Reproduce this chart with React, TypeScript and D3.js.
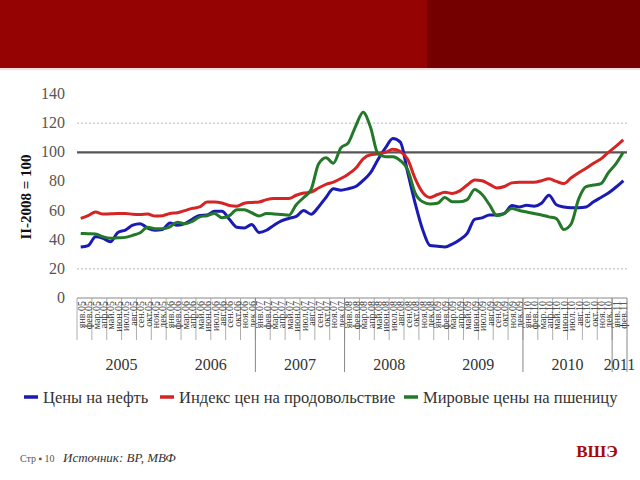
import React from "react";
import * as d3 from "d3";

const monthNames = ["янв", "фев", "мар", "апр", "май", "июн", "июл", "авг", "сен", "окт", "ноя", "дек"];
const years = [2005, 2006, 2007, 2008, 2009, 2010, 2011];
const separatorYears = [2007, 2008, 2010, 2011];
const yTicks = [0, 20, 40, 60, 80, 100, 120, 140];
const dottedGrid = [20, 120];

// Monthly values, Jan 2005 – Feb 2011 (II-2008 = 100)
const oil = [35, 36, 42, 41, 38.6, 45, 46.6, 50, 51, 48, 46.5, 47, 51.5, 50, 51, 54, 56.7, 57, 59.5, 59.5,
  54, 48.5, 48, 50.5, 45, 46.5, 50, 53, 54.6, 56, 60, 57.5, 62.5, 69, 75, 74, 75, 76.5, 80.7, 86,
  95, 103, 109.5, 107, 86, 65, 47, 36, 35.5, 35, 37, 40, 44.3, 54, 55, 57, 57, 58, 63.5, 62.5,
  63.6, 63, 65, 70.5, 64, 62.5, 62, 62, 62.5, 66, 69, 72, 76, 80.5];
const food = [54.6, 56.5, 59, 57.6, 57.8, 58, 58, 57.5, 57.3, 57.6, 56.2, 56.5, 58, 58.5, 60, 61.5, 62.5, 65.9, 65.9, 65.2,
  63.5, 63, 65, 65.6, 65.9, 67.5, 68.2, 68.2, 68.2, 70.5, 72, 72.7, 75.5, 78, 79.5, 82, 85, 89, 95.5, 98.3,
  98.9, 100, 102, 100.5, 95, 82, 72.5, 69, 71, 72.5, 71.8, 73.5, 77.5, 81, 80.5, 78, 75.5, 76.5, 79, 79.5,
  79.5, 79.5, 80.5, 81.8, 80, 78.5, 82.5, 86, 89, 92.5, 95.5, 100, 104, 108.5];
const wheat = [44.3, 44.1, 43.9, 42, 41, 41.3, 41.6, 43, 44.8, 48.5, 47.5, 47.5, 48.8, 52, 51, 52.5, 55.7, 56.5, 58, 55,
  56.5, 60.5, 60.5, 58.5, 56.3, 58, 57.7, 57.3, 56.8, 64, 69, 74.5, 92, 96.3, 92.5, 103, 106.5, 118, 127.5, 117,
  99, 97, 97, 94.3, 88, 72, 66, 64.5, 65, 69, 66, 66, 67.5, 74.5, 71, 64, 56.5, 58, 61.4, 60,
  59, 58, 57, 55.7, 54.5, 47, 51, 68, 76.5, 77.5, 78.5, 86, 92, 100];

const seriesNames = ["Цены на нефть", "Индекс цен на продовольствие", "Мировые цены на пшеницу"];
const seriesColors = ["#1a1ab4", "#d42424", "#23782a"];

const months = oil.map((_, i) => ({ i, m: i % 12, y: 2005 + Math.floor(i / 12) }));

export default function App() {
  const W = 640, H = 480;
  const x0 = 77, x1 = 627, yBase = 298;
  const x = d3.scaleBand<number>().domain(months.map(d => d.i)).range([x0, x1]);
  const cx = (i: number) => (x(i) as number) + x.bandwidth() / 2;
  const y = d3.scaleLinear().domain([0, 140]).range([yBase, 94]);
  const line = d3.line<number>().x((_, i) => cx(i)).y(d => y(d)).curve(d3.curveMonotoneX);
  const sf = { fontFamily: "Liberation Serif" };
  const boundary = (yr: number) => {
    const idx = (yr - 2005) * 12;
    return idx >= months.length ? x1 : (x(idx) as number);
  };
  const yearCenter = (yr: number) => {
    const a = boundary(yr);
    const b = yr === 2011 ? x1 : boundary(yr + 1);
    return (a + b) / 2;
  };
  const allSeries = [oil, food, wheat];
  const legendX = [24, 160, 404];

  return (
    <svg width={W} height={H} style={{ position: "absolute", left: 0, top: 0, background: "#fff" }}>
      <rect x={0} y={0} width={427} height={68} fill="#950303" />
      <rect x={427} y={0} width={213} height={68} fill="#740000" />
      <rect x={0} y={68} width={640} height={2} fill="#f3dcdc" />

      {/* grid */}
      {dottedGrid.map(v => (
        <line key={v} x1={x0} x2={x1} y1={y(v)} y2={y(v)} stroke="#b8b8b8" strokeWidth={1} strokeDasharray="2,2" />
      ))}
      <line x1={x0} x2={x1} y1={y(100)} y2={y(100)} stroke="#555" strokeWidth={2.2} />

      {/* y axis labels */}
      {yTicks.map(v => (
        <text key={v} x={65} y={y(v) + 5} textAnchor="end" fontSize={16} fill="#555" style={sf}>{v}</text>
      ))}
      <text transform={`translate(31,${197}) rotate(-90)`} textAnchor="middle" fontSize={15} fontWeight="bold" fill="#111" style={sf}>II-2008 = 100</text>

      {/* x axis */}
      <line x1={x0} x2={x1} y1={yBase} y2={yBase} stroke="#888" strokeWidth={1} />
      {months.filter(d => d.i % 2 === 0).map(d => (
        <line key={"t" + d.i} x1={x(d.i) as number} x2={x(d.i) as number} y1={yBase} y2={340} stroke="#999" strokeWidth={0.8} />
      ))}
      {months.map(d => (
        <text key={"m" + d.i} transform={`translate(${cx(d.i) + 4},${301}) rotate(-90)`} textAnchor="end" fontSize={10} fill="#333" style={sf}>
          {monthNames[d.m] + "." + String(d.y).slice(2)}
        </text>
      ))}
      {separatorYears.map(yr => (
        <line key={"s" + yr} x1={boundary(yr)} x2={boundary(yr)} y1={yBase} y2={372} stroke="#888" strokeWidth={1} />
      ))}
      <line x1={x1} x2={x1} y1={yBase} y2={372} stroke="#888" strokeWidth={1} />
      {years.map(yr => (
        <text key={"y" + yr} x={yearCenter(yr)} y={370} textAnchor="middle" fontSize={16} fill="#333" style={sf}>{yr}</text>
      ))}

      {/* series */}
      {allSeries.map((s, k) => (
        <path key={k} d={line(s) || ""} fill="none" stroke={seriesColors[k]} strokeWidth={3} strokeLinejoin="round" />
      ))}

      {/* legend */}
      {seriesNames.map((n, k) => (
        <g key={n}>
          <line x1={legendX[k]} x2={legendX[k] + 14} y1={397} y2={397} stroke={seriesColors[k]} strokeWidth={3.5} />
          <text x={legendX[k] + 19} y={403} fontSize={16.5} fill="#333" style={sf}>{n}</text>
        </g>
      ))}

      {/* footer */}
      <text x={20} y={462} fontSize={10} fill="#555" style={sf}>Стр ▪ 10</text>
      <text x={63} y={462} fontSize={13} fontStyle="italic" fill="#333" style={sf}>Источник: BP, МВФ</text>
      <text x={597} y={457} textAnchor="middle" fontSize={17} fontWeight="bold" fill="#a50a0a" style={sf}>ВШЭ</text>
    </svg>
  );
}
